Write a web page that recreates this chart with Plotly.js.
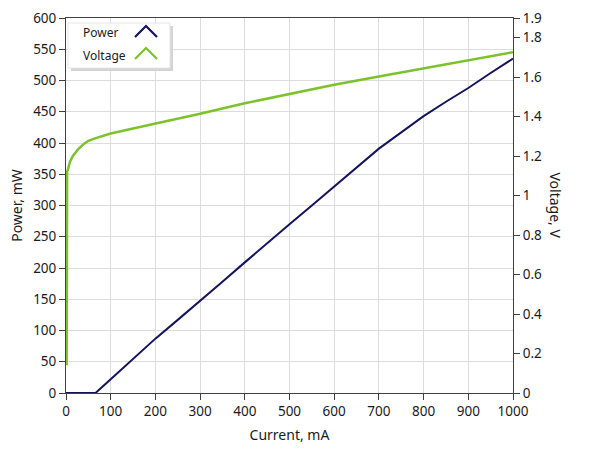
<!DOCTYPE html>
<html>
<head>
<meta charset="utf-8">
<script src="https://cdn.plot.ly/plotly-3.0.1.min.js"></script>
<style>html,body{margin:0;padding:0;background:#fff;}#chart{width:589px;height:456px;}</style>
</head>
<body>
<div id="chart"></div>
<script>
// ---- data ----
const powerCurrent = [0, 66, 100, 150, 200, 250, 300, 350, 400, 450, 500, 550, 600, 650, 700, 750, 800, 850, 900, 950, 1000];
const powerValues  = [0, 0, 22, 55, 87, 117, 147, 178, 209, 240, 270, 300, 330, 361, 391, 417, 443, 466, 488, 512, 535];

const voltageCurrent = [1.5, 2, 2.5, 5, 9, 15, 27, 40, 50, 65, 80, 100, 150, 200, 300, 400, 500, 600, 700, 800, 900, 1000];
const voltageValues  = [0.14, 0.9, 1.12, 1.138, 1.172, 1.2, 1.235, 1.262, 1.278, 1.29, 1.302, 1.315, 1.34, 1.364, 1.415, 1.468, 1.516, 1.562, 1.604, 1.646, 1.687, 1.727];

const xTicks = [0, 100, 200, 300, 400, 500, 600, 700, 800, 900, 1000];
const y2Ticks = [0, 0.2, 0.4, 0.6, 0.8, 1, 1.2, 1.4, 1.6, 1.8, 1.9];
const y2TickText = ["0", "0.2", "0.4", "0.6", "0.8", "1", "1.2", "1.4", "1.6", "1.8", "1.9"];

const seriesNames = ["Power", "Voltage"];
const powerColor = "#14145c";
const voltageColor = "#7cc22c";

// ---- layout helpers (plot area in pixels) ----
const L = 66, R = 513, T = 18, B = 393;
function fx(px){ return (px - L) / (R - L); }
function fy(py){ return 1 - (py - T) / (B - T); }
function caret(x0, y0, color){
  return {type:'path', xref:'paper', yref:'paper', layer:'above',
    path:'M '+fx(x0)+' '+fy(y0+11)+' L '+fx(x0+11)+' '+fy(y0)+' L '+fx(x0+22)+' '+fy(y0+11),
    line:{color:color, width:2.2}};
}

const FONT = "Noto Sans, Open Sans, sans-serif";
const axisCol = "#404040";
const gridCol = "#dcdcdc";

const traces = [
  {x: powerCurrent, y: powerValues, name: seriesNames[0], type:'scatter', mode:'lines',
   line:{color: powerColor, width:2}, yaxis:'y', showlegend:false},
  {x: voltageCurrent, y: voltageValues, name: seriesNames[1], type:'scatter', mode:'lines',
   line:{color: voltageColor, width:2.5}, yaxis:'y2', showlegend:false}
];

const layout = {
  width: 589, height: 456,
  margin: {l: L, r: 589 - R, t: T, b: 456 - B, pad: 0},
  paper_bgcolor: '#ffffff', plot_bgcolor: '#ffffff',
  font: {family: FONT, size: 13.5, color: '#1a1a1a'},
  showlegend: false,
  xaxis: {
    range: [0, 1000], tickvals: xTicks, showgrid: true, gridcolor: gridCol, gridwidth: 1,
    showline: true, linecolor: axisCol, linewidth: 1, mirror: true,
    ticks: 'outside', ticklen: 6, tickcolor: axisCol, zeroline: false,
    tickfont: {family: FONT, size: 13.5, color: '#1a1a1a'},
    title: {text: 'Current, mA', font: {family: FONT, size: 14, color: '#1a1a1a'}, standoff: 10}
  },
  yaxis: {
    range: [0, 600], dtick: 50, tick0: 0, showgrid: true, gridcolor: gridCol, gridwidth: 1,
    showline: true, linecolor: axisCol, linewidth: 1,
    ticks: 'outside', ticklen: 6, tickcolor: axisCol, zeroline: false,
    tickfont: {family: FONT, size: 13.5, color: '#1a1a1a'},
    title: {text: 'Power, mW', font: {family: FONT, size: 14, color: '#1a1a1a'}, standoff: 7}
  },
  yaxis2: {
    range: [0, 1.9], overlaying: 'y', side: 'right', tickvals: y2Ticks, ticktext: y2TickText,
    showgrid: false, showline: true, linecolor: axisCol, linewidth: 1,
    ticks: 'outside', ticklen: 6, tickcolor: axisCol, zeroline: false,
    tickfont: {family: FONT, size: 13.5, color: '#1a1a1a'}
  },
  shapes: [
    {type:'rect', xref:'paper', yref:'paper', layer:'above', x0: fx(71), x1: fx(173), y0: fy(71), y1: fy(26),
     fillcolor:'#d4d4d4', line:{width:0}},
    {type:'rect', xref:'paper', yref:'paper', layer:'above', x0: fx(68), x1: fx(170), y0: fy(68), y1: fy(23),
     fillcolor:'#ffffff', line:{color:'#e6e6e6', width:1}},
    caret(135, 26, powerColor),
    caret(135, 48, voltageColor)
  ],
  annotations: [
    {text: seriesNames[0], xref:'paper', yref:'paper', x: fx(81), y: fy(32), xanchor:'left', yanchor:'middle',
     showarrow:false, font:{family: FONT, size: 12, color:'#1a1a1a'}},
    {text: seriesNames[1], xref:'paper', yref:'paper', x: fx(81), y: fy(55), xanchor:'left', yanchor:'middle',
     showarrow:false, font:{family: FONT, size: 12, color:'#1a1a1a'}},
    {text: 'Voltage, V', xref:'paper', yref:'paper', x: fx(555), y: 0.5, xanchor:'center', yanchor:'middle',
     textangle: 90, showarrow:false, font:{family: FONT, size: 14, color:'#1a1a1a'}}
  ]
};

Plotly.newPlot('chart', traces, layout, {displayModeBar: false, staticPlot: true});
</script>
</body>
</html>
